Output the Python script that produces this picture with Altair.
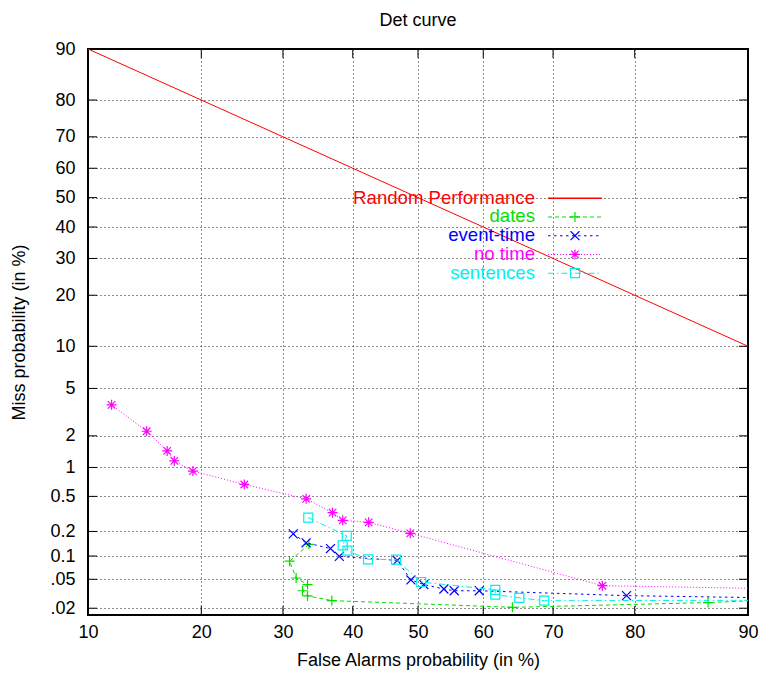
import altair as alt
import pandas as pd
from statistics import NormalDist

_nd = NormalDist()


def probit(pct):
    return _nd.inv_cdf(pct / 100.0)


# ---------------- data (percent) ----------------
x_ticks = [10, 20, 30, 40, 50, 60, 70, 80, 90]
x_tick_labels = ["10", "20", "30", "40", "50", "60", "70", "80", "90"]
y_ticks = [90, 80, 70, 60, 50, 40, 30, 20, 10, 5, 2, 1, 0.5, 0.2, 0.1, 0.05, 0.02]
y_tick_labels = ["90", "80", "70", "60", "50", "40", "30", "20", "10", "5", "2",
                 "1", "0.5", "0.2", "0.1", ".05", ".02"]

random_fa = [10, 90]
random_miss = [90, 10]

dates_fa = [33.6, 30.9, 31.8, 33.4, 32.7, 33.4, 36.9, 64.3, 87.0, 95]
dates_miss = [0.14, 0.086, 0.052, 0.0425, 0.035, 0.0297, 0.0256, 0.0206, 0.024, 0.029]

event_fa = [31.4, 33.2, 36.7, 38.0, 46.8, 48.9, 50.9, 54.0, 55.6, 59.4, 79.1, 95]
event_miss = [0.187, 0.146, 0.124, 0.099, 0.088, 0.049, 0.0425, 0.037, 0.035, 0.035, 0.030, 0.027]

notime_fa = [11.7, 14.6, 16.5, 17.2, 19.1, 25.0, 33.2, 37.0, 38.5, 42.4, 48.8, 76.3, 95]
notime_miss = [3.7, 2.2, 1.45, 1.16, 0.92, 0.67, 0.47, 0.33, 0.27, 0.256, 0.19, 0.041, 0.036]

sent_fa = [33.5, 39.1, 38.5, 39.2, 42.3, 46.6, 50.5, 61.8, 61.8, 65.3, 68.8, 95]
sent_miss = [0.29, 0.177, 0.136, 0.117, 0.091, 0.090, 0.046, 0.036, 0.031, 0.028, 0.0255, 0.026]

FONT = "Liberation Sans"
W, H = 660, 566


def label_expr(ticks, labels):
    expr = "''"
    for t, l in reversed(list(zip(ticks, labels))):
        expr = f"abs(datum.value - ({probit(t):.6f})) < 0.001 ? '{l}' : ({expr})"
    return expr


xscale = alt.Scale(domain=[probit(10), probit(90)], nice=False, zero=False)
yscale = alt.Scale(domain=[probit(0.016), probit(90)], nice=False, zero=False)

xaxis = alt.Axis(values=[probit(t) for t in x_ticks], labelExpr=label_expr(x_ticks, x_tick_labels),
                 title="False Alarms probability (in %)", labelPadding=8, titlePadding=10,
                 labelFlush=False, labelOverlap=False)
yaxis = alt.Axis(values=[probit(t) for t in y_ticks], labelExpr=label_expr(y_ticks, y_tick_labels),
                 title="Miss probability (in %)", labelPadding=13, titlePadding=21,
                 labelFlush=False, labelOverlap=False)

X = alt.X("fz:Q", scale=xscale, axis=xaxis)
Y = alt.Y("mz:Q", scale=yscale, axis=yaxis)


def frame(fa, miss):
    return pd.DataFrame({"i": list(range(len(fa))),
                         "fz": [probit(v) for v in fa],
                         "mz": [probit(v) for v in miss]})


layers = []

# inward tick marks on all four borders (gnuplot style)
xt = pd.DataFrame({"fz": [probit(t) for t in x_ticks]})
yt = pd.DataFrame({"mz": [probit(t) for t in y_ticks]})
layers.append(alt.Chart(xt).mark_rule(color="black", strokeWidth=1).encode(
    x=X, y=alt.value(H), y2=alt.value(H - 9)))
layers.append(alt.Chart(xt).mark_rule(color="black", strokeWidth=1).encode(
    x=X, y=alt.value(0), y2=alt.value(9)))
layers.append(alt.Chart(yt).mark_rule(color="black", strokeWidth=1).encode(
    y=Y, x=alt.value(0), x2=alt.value(9)))
layers.append(alt.Chart(yt).mark_rule(color="black", strokeWidth=1).encode(
    y=Y, x=alt.value(W), x2=alt.value(W - 9)))

PLUS = "M-1,0L1,0M0,-1L0,1"
XSHAPE = "M-1,-1L1,1M-1,1L1,-1"
STAR = "M-1,0L1,0M0,-1L0,1M-0.75,-0.75L0.75,0.75M-0.75,0.75L0.75,-0.75"

series = [
    ("Random Performance", random_fa, random_miss, "#ff0000", None, None),
    ("dates", dates_fa, dates_miss, "#00e000", [4, 3], PLUS),
    ("event-time", event_fa, event_miss, "#0000ff", [2.5, 3.5], XSHAPE),
    ("no time", notime_fa, notime_miss, "#ff00ff", [1, 2], STAR),
    ("sentences", sent_fa, sent_miss, "#00f0f0", [6, 3, 1.5, 3], "square"),
]

SIZES = {PLUS: 100, XSHAPE: 80, STAR: 100, "square": 81}

for name, fa, miss, col, dash, shape in series:
    df = frame(fa, miss)
    lkw = dict(color=col, stroke=col, strokeWidth=1, clip=True)
    if dash:
        lkw["strokeDash"] = dash
    layers.append(alt.Chart(df).mark_line(**lkw).encode(x=X, y=Y, order=alt.Order("i:Q")))
    if shape:
        layers.append(alt.Chart(df).mark_point(shape=shape, filled=False, color=col, stroke=col,
                                               size=SIZES[shape], strokeWidth=1.2, opacity=1,
                                               clip=True).encode(x=X, y=Y))

# legend (gnuplot style: right-aligned text, line sample with marker)
for k, (name, fa, miss, col, dash, shape) in enumerate(series):
    ry = 149.2 + 18.75 * k
    one = pd.DataFrame({"t": [name]})
    layers.append(alt.Chart(one).mark_text(align="right", baseline="middle", font=FONT,
                                           fontSize=18.6, color=col).encode(
        text="t:N", x=alt.value(447), y=alt.value(ry - 0.7)))
    rkw = dict(color=col, stroke=col, strokeWidth=1.4 if not dash else 1.1)
    if dash:
        rkw["strokeDash"] = dash
    layers.append(alt.Chart(one).mark_rule(**rkw).encode(
        x=alt.value(460), x2=alt.value(514), y=alt.value(ry)))
    if shape:
        layers.append(alt.Chart(one).mark_point(shape=shape, filled=False, color=col, stroke=col,
                                                size=SIZES[shape], strokeWidth=1.2,
                                                opacity=1).encode(
            x=alt.value(487), y=alt.value(ry)))

chart = alt.layer(*layers).properties(
    width=W, height=H,
    title=alt.Title("Det curve", fontSize=18, font=FONT, fontWeight="normal", offset=10,
                    color="black"),
    autosize=alt.AutoSizeParams(type="none"),
    padding={"left": 88, "top": 49, "right": 13, "bottom": 58},
).configure_axis(
    grid=True, gridColor="black", gridDash=[1, 3], gridOpacity=0.9, gridWidth=1,
    ticks=False, tickSize=0, domain=False,
    labelFont=FONT, labelFontSize=18, labelColor="black",
    titleFont=FONT, titleFontSize=18, titleFontWeight="normal", titleColor="black",
).configure_view(stroke="black", strokeWidth=2)

chart.save("out.html", embed_options={"renderer": "svg", "actions": False})
